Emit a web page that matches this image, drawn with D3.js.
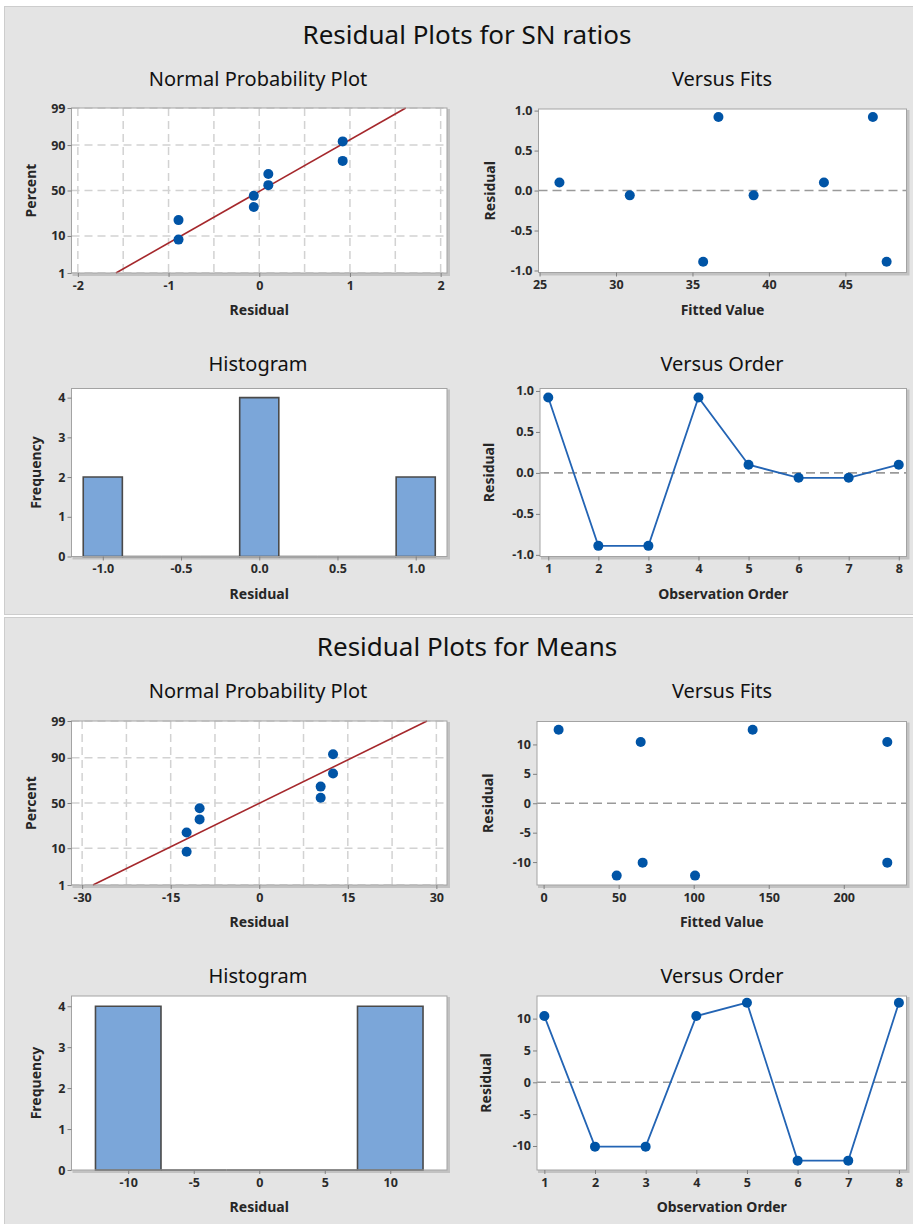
<!DOCTYPE html>
<html>
<head>
<meta charset="utf-8">
<script src="https://cdn.jsdelivr.net/npm/d3@7"></script>
<style>
  body { margin: 0; background: #fff; }
  svg { display: block; font-family: "Noto Sans", "Open Sans", sans-serif; font-variant-ligatures: none; }
</style>
</head>
<body>
<svg id="chart" width="913" height="1224"></svg>
<script>
// residuals listed in observation order
const snResiduals = [0.92, -0.89, -0.89, 0.92, 0.10, -0.06, -0.06, 0.10];
const snFits = [36.7, 35.7, 47.7, 46.8, 26.3, 30.9, 39.0, 43.6];
const meansResiduals = [10.4, -10.1, -10.1, 10.4, 12.5, -12.3, -12.3, 12.5];
const meansFits = [64.7, 66.0, 229.0, 229.0, 10.0, 48.7, 100.9, 139.3];

// percent (median rank) of each sorted residual
const nppPercents = [8.3, 20.2, 32.1, 44.0, 56.0, 67.9, 79.8, 91.7];
const percentTicks = [1, 10, 50, 90, 99];

const snBinCenters = [-1.0, -0.75, -0.5, -0.25, 0, 0.25, 0.5, 0.75, 1.0];
const snBinCounts = [2, 0, 0, 0, 4, 0, 0, 0, 2];
const meansBinCenters = [-10, -5, 0, 5, 10];
const meansBinCounts = [4, 0, 0, 0, 4];

const snNppTicks = [-2, -1, 0, 1, 2];
const meansNppTicks = [-30, -15, 0, 15, 30];
const snFitTicks = [25, 30, 35, 40, 45];
const meansFitTicks = [0, 50, 100, 150, 200];
const snResidTicks = [-1, -0.5, 0, 0.5, 1];
const meansResidTicks = [-10, -5, 0, 5, 10];
const freqTicks = [0, 1, 2, 3, 4];
const orderTicks = [1, 2, 3, 4, 5, 6, 7, 8];

var svg = d3.select("#chart");

// inverse normal cdf (Acklam)
function probit(p) {
  var a = [-39.69683028665376, 220.9460984245205, -275.9285104469687, 138.3577518672690, -30.66479806614716, 2.506628277459239];
  var b = [-54.47609879822406, 161.5858368580409, -155.6989798598866, 66.80131188771972, -13.28068155288572];
  var c = [-0.007784894002430293, -0.3223964580411365, -2.400758277161838, -2.549732539343734, 4.374664141464968, 2.938163982698783];
  var d = [0.007784695709041462, 0.3224671290700398, 2.445134137142996, 3.754408661907416];
  var pl = 0.02425, q, r;
  if (p < pl) {
    q = Math.sqrt(-2 * Math.log(p));
    return (((((c[0]*q+c[1])*q+c[2])*q+c[3])*q+c[4])*q+c[5]) / ((((d[0]*q+d[1])*q+d[2])*q+d[3])*q+1);
  }
  if (p > 1 - pl) {
    q = Math.sqrt(-2 * Math.log(1 - p));
    return -(((((c[0]*q+c[1])*q+c[2])*q+c[3])*q+c[4])*q+c[5]) / ((((d[0]*q+d[1])*q+d[2])*q+d[3])*q+1);
  }
  q = p - 0.5; r = q * q;
  return (((((a[0]*r+a[1])*r+a[2])*r+a[3])*r+a[4])*r+a[5])*q / (((((b[0]*r+b[1])*r+b[2])*r+b[3])*r+b[4])*r+1);
}

const fmt1 = d => d.toFixed(1);
const fmt0 = d => String(d);

// background panels
svg.append("rect").attr("x", 4.5).attr("y", 6.5).attr("width", 910).attr("height", 608)
  .attr("fill", "#e4e4e4").attr("stroke", "#cdcdcd");
svg.append("rect").attr("x", 4.5).attr("y", 617.5).attr("width", 910).attr("height", 610)
  .attr("fill", "#e4e4e4").attr("stroke", "#cdcdcd");

function boxBack(g, box) {
  g.append("rect").attr("x", box.x0 + 1).attr("y", box.y0 + 1)
    .attr("width", box.x1 - box.x0 + 2).attr("height", box.y1 - box.y0 + 2).attr("fill", "#c2c2c2");
  g.append("rect").attr("x", box.x0).attr("y", box.y0)
    .attr("width", box.x1 - box.x0).attr("height", box.y1 - box.y0).attr("fill", "white");
}
function boxBorder(g, box) {
  g.append("rect").attr("x", box.x0).attr("y", box.y0)
    .attr("width", box.x1 - box.x0).attr("height", box.y1 - box.y0)
    .attr("fill", "none").attr("stroke", "#a3a3a3").attr("stroke-width", 1);
}

function drawAxes(g, box, x, y, xTicks, yTicks, xFmt, yFmt) {
  var ax = g.append("g").attr("transform", "translate(0," + box.y1 + ")")
    .call(d3.axisBottom(x).tickValues(xTicks).tickFormat(xFmt).tickSize(4).tickPadding(4));
  var ay = g.append("g").attr("transform", "translate(" + box.x0 + ",0)")
    .call(d3.axisLeft(y).tickValues(yTicks).tickFormat(yFmt).tickSize(4).tickPadding(2));
  [ax, ay].forEach(a => {
    a.select(".domain").remove();
    a.selectAll("line").attr("stroke", "#808080");
    a.selectAll("text").attr("fill", "#2a2a2a").style("font-size", "12.5px")
      .style("font-weight", "700").style("font-family", "'Noto Sans', sans-serif");
  });
}

function axisTitles(g, box, xTitle, yTitle, yTitleX) {
  g.append("text").attr("x", (box.x0 + box.x1) / 2).attr("y", box.y1 + 42)
    .attr("text-anchor", "middle").attr("fill", "#262626")
    .style("font-size", "14px").style("font-weight", "700").text(xTitle);
  g.append("text").attr("transform", "translate(" + yTitleX + "," + (box.y0 + box.y1) / 2 + ") rotate(-90)")
    .attr("text-anchor", "middle").attr("fill", "#262626")
    .style("font-size", "14px").style("font-weight", "700").text(yTitle);
}

function drawNpp(g, box, residuals, xDomain, xTicks, gridStep) {
  var x = d3.scaleLinear().domain(xDomain).range([box.x0, box.x1]);
  var y = d3.scaleLinear().domain([probit(0.01), probit(0.99)]).range([box.y1, box.y0]);
  boxBack(g, box);

  var gridX = d3.range(xTicks[0], xTicks[xTicks.length - 1] + gridStep / 2, gridStep);
  g.selectAll(null).data(gridX).enter().append("line")
    .attr("x1", d => x(d)).attr("x2", d => x(d)).attr("y1", box.y0).attr("y2", box.y1)
    .attr("stroke", "#d2d2d2").attr("stroke-width", 1.5).attr("stroke-dasharray", "8,5");
  g.selectAll(null).data(percentTicks).enter().append("line")
    .attr("x1", box.x0).attr("x2", box.x1).attr("y1", d => y(probit(d / 100))).attr("y2", d => y(probit(d / 100)))
    .attr("stroke", "#d2d2d2").attr("stroke-width", 1.5).attr("stroke-dasharray", "8,5");

  var mean = d3.mean(residuals), sd = d3.deviation(residuals);
  var ends = [probit(0.01), probit(0.99)];
  g.append("path")
    .datum(ends)
    .attr("d", d3.line().x(z => x(mean + sd * z)).y(z => y(z)))
    .attr("stroke", "#a5282c").attr("stroke-width", 1.6).attr("fill", "none");

  var sorted = d3.sort(residuals);
  g.selectAll(null).data(sorted).enter().append("circle")
    .attr("cx", d => x(d)).attr("cy", (d, i) => y(probit(nppPercents[i] / 100)))
    .attr("r", 5).attr("fill", "#0054a6");

  boxBorder(g, box);
  drawAxes(g, box, x, y, xTicks, percentTicks.map(p => probit(p / 100)), fmt0, (d, i) => percentTicks[i]);
  axisTitles(g, box, "Residual", "Percent", box.x0 - 36);
}

function drawFits(g, box, fits, residuals, xDomain, yDomain, xTicks, yTicks, yFmt) {
  var x = d3.scaleLinear().domain(xDomain).range([box.x0, box.x1]);
  var y = d3.scaleLinear().domain(yDomain).range([box.y1, box.y0]);
  boxBack(g, box);
  g.append("line").attr("x1", box.x0).attr("x2", box.x1).attr("y1", y(0)).attr("y2", y(0))
    .attr("stroke", "#9a9a9a").attr("stroke-width", 1.6).attr("stroke-dasharray", "9,5");
  g.selectAll(null).data(residuals).enter().append("circle")
    .attr("cx", (d, i) => x(fits[i])).attr("cy", d => y(d))
    .attr("r", 5).attr("fill", "#0054a6");
  boxBorder(g, box);
  drawAxes(g, box, x, y, xTicks, yTicks, fmt0, yFmt);
  axisTitles(g, box, "Fitted Value", "Residual", box.x0 - 44);
}

function drawHist(g, box, centers, counts, xDomain, yMax, xTicks, xFmt) {
  var x = d3.scaleLinear().domain(xDomain).range([box.x0, box.x1]);
  var y = d3.scaleLinear().domain([0, yMax]).range([box.y1, box.y0]);
  var w = centers[1] - centers[0];
  boxBack(g, box);
  // paths so that empty bins still show their outline along the base
  g.selectAll(null).data(centers).enter().append("path")
    .attr("d", (d, i) => {
      var p = d3.path();
      p.rect(x(d - w / 2), y(counts[i]), x(d + w / 2) - x(d - w / 2), y(0) - y(counts[i]));
      return p.toString();
    })
    .attr("fill", "#7ba6d9").attr("stroke", "#4a4a4a").attr("stroke-width", 1.6);
  boxBorder(g, box);
  drawAxes(g, box, x, y, xTicks, freqTicks, xFmt, fmt0);
  axisTitles(g, box, "Residual", "Frequency", box.x0 - 31);
}

function drawOrder(g, box, residuals, xDomain, yDomain, yTicks, yFmt) {
  var x = d3.scaleLinear().domain(xDomain).range([box.x0, box.x1]);
  var y = d3.scaleLinear().domain(yDomain).range([box.y1, box.y0]);
  boxBack(g, box);
  g.append("line").attr("x1", box.x0).attr("x2", box.x1).attr("y1", y(0)).attr("y2", y(0))
    .attr("stroke", "#9a9a9a").attr("stroke-width", 1.6).attr("stroke-dasharray", "9,5");
  g.append("path").datum(residuals)
    .attr("d", d3.line().x((d, i) => x(orderTicks[i])).y(d => y(d)))
    .attr("fill", "none").attr("stroke", "#2364b4").attr("stroke-width", 1.8);
  g.selectAll(null).data(residuals).enter().append("circle")
    .attr("cx", (d, i) => x(orderTicks[i])).attr("cy", d => y(d))
    .attr("r", 5).attr("fill", "#0054a6");
  boxBorder(g, box);
  drawAxes(g, box, x, y, orderTicks, yTicks, fmt0, yFmt);
  axisTitles(g, box, "Observation Order", "Residual", box.x0 - 46);
}

function titles(g, title, titleY, subTopY, subBotY) {
  g.append("text").attr("x", 467).attr("y", titleY).attr("text-anchor", "middle")
    .attr("fill", "#111").style("font-size", "26px").text(title);
  var subs = [["Normal Probability Plot", 258, subTopY], ["Versus Fits", 722, subTopY],
              ["Histogram", 258, subBotY], ["Versus Order", 722, subBotY]];
  subs.forEach(s => {
    g.append("text").attr("x", s[1]).attr("y", s[2]).attr("text-anchor", "middle")
      .attr("fill", "#111").style("font-size", "20px").text(s[0]);
  });
}

// SN ratios panel
var g1 = svg.append("g");
titles(g1, "Residual Plots for SN ratios", 44, 86, 371);
drawNpp(g1, {x0: 71.5, x1: 447, y0: 108, y1: 273}, snResiduals, [-2.07, 2.07], snNppTicks, 0.5);
drawFits(g1, {x0: 538.5, x1: 906.5, y0: 109, y1: 272.5}, snFits, snResiduals,
  [24.93, 49.0], [-1.025, 1.02], snFitTicks, snResidTicks, fmt1);
drawHist(g1, {x0: 71.5, x1: 447, y0: 388.5, y1: 556.5}, snBinCenters, snBinCounts,
  [-1.2, 1.2], 4.23, snResidTicks, fmt1);
drawOrder(g1, {x0: 540, x1: 906.5, y0: 388.5, y1: 556.5}, snResiduals,
  [0.835, 8.155], [-1.02, 1.03], snResidTicks, fmt1);

// Means panel
var g2 = svg.append("g");
titles(g2, "Residual Plots for Means", 656, 698, 983);
drawNpp(g2, {x0: 71.5, x1: 447, y0: 721, y1: 885}, meansResiduals, [-31.8, 31.8], meansNppTicks, 7.5);
drawFits(g2, {x0: 537, x1: 906.5, y0: 721.5, y1: 885}, meansFits, meansResiduals,
  [-4.4, 241.8], [-13.9, 13.9], meansFitTicks, meansResidTicks, fmt0);
drawHist(g2, {x0: 71.5, x1: 447, y0: 996, y1: 1170}, meansBinCenters, meansBinCounts,
  [-14.33, 14.33], 4.25, meansResidTicks, fmt0);
drawOrder(g2, {x0: 537, x1: 906.5, y0: 996, y1: 1170}, meansResiduals,
  [0.855, 8.15], [-13.77, 13.55], meansResidTicks, fmt0);
</script>
</body>
</html>
